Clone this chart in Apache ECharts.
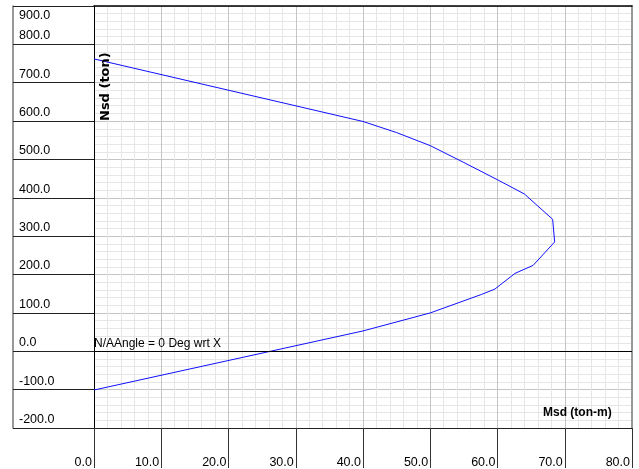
<!DOCTYPE html>
<html>
<head>
<meta charset="utf-8">
<script src="https://cdn.jsdelivr.net/npm/echarts@6/dist/echarts.min.js"></script>
<style>
  html, body { margin: 0; padding: 0; background: #fff; }
  #chart { width: 639px; height: 469px; }
</style>
</head>
<body>
<div id="chart"></div>
<script>
// interaction curve, Msd (ton-m) vs Nsd (ton)
const msdValues = [0, 40, 45, 50, 55, 60, 64, 68.2, 68.5, 65.3, 62.6, 59.6, 57.6, 50, 40, 0]
const nsdValues = [762, 599, 570, 536, 492, 447, 410, 344, 285, 224, 203, 162, 148, 100, 53, -101]
const xTicks = [0, 10, 20, 30, 40, 50, 60, 70, 80]
const yTicks = [-200, -100, 0, 100, 200, 300, 400, 500, 600, 700, 800, 900]
const xTitle = 'Msd (ton-m)'
const yTitle = 'Nsd (ton)'
const noteText = 'N/AAngle = 0 Deg wrt X'

const labelFont = "'Liberation Sans', Arial, sans-serif"

const chart = echarts.init(document.getElementById('chart'), null, { renderer: 'canvas' })

const curve = msdValues.map((x, i) => [x, nsdValues[i]])

const xMin = xTicks[0], xMax = xTicks[xTicks.length - 1]
const yMin = yTicks[0], yMax = yTicks[yTicks.length - 1]

const option = {
  animation: false,
  backgroundColor: '#fff',
  grid: { left: 94, top: 6, right: 7, bottom: 39 },
  xAxis: [
    {
      type: 'value', min: xMin, max: xMax, interval: 10, position: 'bottom',
      axisLine: { show: true, onZero: false, lineStyle: { color: '#222', width: 1 } },
      axisTick: { show: true, length: 40, lineStyle: { color: '#333' } },
      axisLabel: {
        formatter: v => v.toFixed(1), align: 'right', verticalAlign: 'top', margin: 28,
        padding: [0, 2, 0, 0], color: '#000', fontSize: 12.5, fontFamily: labelFont
      },
      splitLine: { show: true, lineStyle: { color: '#c4c4c4' } },
      minorTick: { show: false, splitNumber: 5 },
      minorSplitLine: { show: true, lineStyle: { color: '#e6e6e6' } }
    },
    {
      // top border
      type: 'value', min: xMin, max: xMax, position: 'top',
      axisLine: { show: true, onZero: false, lineStyle: { color: '#000', width: 1.5 } },
      axisTick: { show: false }, axisLabel: { show: false }, splitLine: { show: false }
    }
  ],
  yAxis: [
    {
      type: 'value', min: yMin, max: yMax, interval: 100, position: 'left',
      axisLine: { show: true, onZero: false, lineStyle: { color: '#000', width: 1 } },
      axisTick: { show: true, length: 81, lineStyle: { color: '#222' } },
      axisLabel: {
        formatter: v => (v === yMax ? '' : v.toFixed(1)), align: 'left', verticalAlign: 'bottom',
        margin: 75, padding: [0, 0, 2, 0], color: '#000', fontSize: 12.5, fontFamily: labelFont,
        showMaxLabel: true, showMinLabel: true
      },
      splitLine: { show: true, lineStyle: { color: '#c4c4c4' } },
      minorTick: { show: false, splitNumber: 5 },
      minorSplitLine: { show: true, lineStyle: { color: '#e6e6e6' } }
    },
    {
      // left border of the label band, carries the top label
      type: 'value', min: yMin, max: yMax, interval: 100, position: 'left', offset: 81,
      axisLine: { show: true, onZero: false, lineStyle: { color: '#777', width: 1.5 } },
      axisTick: { show: false },
      axisLabel: {
        inside: true, formatter: v => (v === yMax ? v.toFixed(1) : ''), align: 'left',
        verticalAlign: 'top', margin: 6, padding: [3, 0, 0, 0], color: '#000', fontSize: 12.5,
        fontFamily: labelFont, showMaxLabel: true
      },
      splitLine: { show: false }
    },
    {
      // right border
      type: 'value', min: yMin, max: yMax, position: 'right',
      axisLine: { show: true, onZero: false, lineStyle: { color: '#999', width: 2 } },
      axisTick: { show: false }, axisLabel: { show: false }, splitLine: { show: false }
    }
  ],
  graphic: [
    {
      type: 'text', left: 94, top: 338, z: 100,
      style: { text: noteText, font: '12px ' + labelFont, fill: '#000' }
    },
    {
      type: 'text', left: 543, top: 407, z: 100,
      style: { text: xTitle, font: 'bold 12px ' + labelFont, fill: '#000' }
    },
    {
      type: 'text', x: 99, y: 121, rotation: Math.PI / 2, z: 100,
      style: { text: yTitle, font: "bold 13px 'DejaVu Sans', sans-serif", fill: '#000', textVerticalAlign: 'top' }
    }
  ],
  series: [
    {
      type: 'line',
      data: curve,
      showSymbol: false,
      symbol: 'none',
      lineStyle: { color: '#1010ff', width: 1 },
      markLine: {
        silent: true, symbol: 'none', label: { show: false },
        lineStyle: { color: '#000', width: 1, type: 'solid' },
        data: [{ yAxis: 0 }]
      }
    }
  ]
}

chart.setOption(option)
</script>
</body>
</html>
